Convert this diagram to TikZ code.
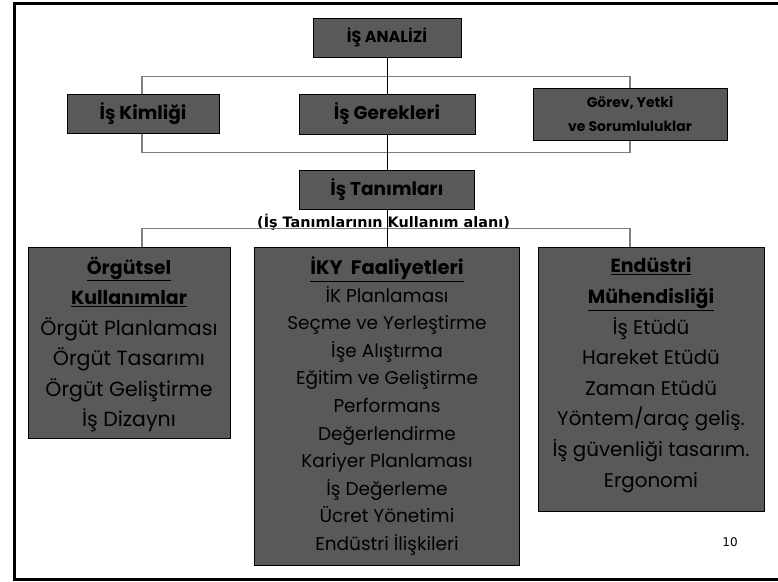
\documentclass[tikz,border=0pt]{standalone}
\usepackage{fontspec}
\setmainfont{Poppins}
\newfontfamily\dejavu{DejaVu Sans}
\definecolor{boxgray}{HTML}{595959}
\definecolor{linegray}{HTML}{7F7F7F}
\begin{document}
\begin{tikzpicture}[x=1pt,y=-1pt,
  box/.style={draw=black, line width=1pt, fill=boxgray, inner sep=0pt, text=black, align=center},
  headfont/.style={font=\fontsize{16}{20}\selectfont\bfseries},
  midfont/.style={font=\fontsize{18.5}{22}\selectfont\bfseries},
  smallhead/.style={font=\fontsize{14}{24}\selectfont\bfseries},
  bigitems/.style={inner sep=0pt, align=center, anchor=north, text=black, font=\fontsize{20.5}{30.5}\selectfont},
  enditems/.style={inner sep=0pt, align=center, anchor=north, text=black, font=\fontsize{19.8}{30.6}\selectfont},
  smallitems/.style={inner sep=0pt, align=center, anchor=north, text=black, font=\fontsize{18.5}{27.6}\selectfont},
  grayline/.style={draw=linegray, line width=1.5pt},
  blackline/.style={draw=black, line width=1pt},
  frameline/.style={draw=black, line width=3pt}
]
\useasboundingbox (0,0) rectangle (778,581);
% frame
\draw[frameline] (778,3.5) -- (14,3.5) -- (14,579) -- (778,579);

\coordinate (brL) at (142,0);
\coordinate (brR) at (630,0);

% top boxes
\node[box, headfont, minimum width=148pt, minimum height=39pt] (analiz) at (387,37.5) {İŞ ANALİZİ};
\node[box, midfont, minimum width=152pt, minimum height=39pt] (kimlik) at (143,113.5) {İş Kimliği};
\node[box, midfont, minimum width=176pt, minimum height=40pt] (gerek) at (387,114) {İş Gerekleri};
\node[box, smallhead, minimum width=194pt, minimum height=52pt] (gorev) at (630,114) {Görev, Yetki\\ve Sorumluluklar};
\node[box, midfont, minimum width=175pt, minimum height=39pt] (tanim) at (387,189.5) {İş Tanımları};

% bracket lines
\draw[grayline] (kimlik.north -| brL) -- ++(0,-17) -| (gorev.north -| brR);
\draw[grayline] (kimlik.south -| brL) -- ++(0,19) -| (gorev.south -| brR);

% redraw boxes over lines
\node[box, midfont, minimum width=152pt, minimum height=39pt] (kimlikb) at (kimlik) {İş Kimliği};
\node[box, smallhead, minimum width=194pt, minimum height=52pt] (gorevb) at (gorev) {Görev, Yetki\\ve Sorumluluklar};

% label
\node[inner sep=0pt, font=\dejavu\fontsize{14.4}{16}\selectfont\bfseries] (alan) at (383.5,222) {(İş Tanımlarının Kullanım alanı)};

% bottom boxes
\node[box, minimum width=202pt, minimum height=191pt] (orgut) at (129,342.5) {};
\node[box, minimum width=265pt, minimum height=318pt] (iky) at (387,406) {};
\node[box, minimum width=226pt, minimum height=264pt] (endus) at (651,379) {};

\draw[grayline] (orgut.north -| brL) -- ++(0,-18) -| (endus.north -| brR);

% black spine
\draw[blackline] (analiz.south) -- (gerek.north);
\draw[blackline] (gerek.south) -- (tanim.north);
\draw[blackline] (tanim.south) -- (iky.north);

% box texts
\node[bigitems] (orguttxt) at ([yshift=-10]orgut.north) {\textbf{\fontsize{19}{30.5}\selectfont\underline{Örgütsel}}\\\textbf{\fontsize{19}{30.5}\selectfont\underline{Kullanımlar}}\\Örgüt Planlaması\\Örgüt Tasarımı\\Örgüt Geliştirme\\İş Dizaynı};
\node[smallitems] (ikytxt) at ([yshift=-10]iky.north) {\textbf{\fontsize{19.5}{27.6}\selectfont\underline{İKY\ \ Faaliyetleri}}\\İK Planlaması\\Seçme ve Yerleştirme\\İşe Alıştırma\\Eğitim ve Geliştirme\\Performans\\Değerlendirme\\Kariyer Planlaması\\İş Değerleme\\Ücret Yönetimi\\Endüstri İlişkileri};
\node[enditems] (endustxt) at ([yshift=-11]endus.north) {\textbf{\fontsize{19}{30.6}\selectfont\underline{Endüstri}}\\\textbf{\fontsize{19}{30.6}\selectfont\underline{Mühendisliği}}\\İş Etüdü\\Hareket Etüdü\\Zaman Etüdü\\Yöntem/araç geliş.\\İş güvenliği tasarım.\\Ergonomi};

% page number
\node[inner sep=0pt, font=\dejavu\fontsize{12}{14}\selectfont] (pnum) at (730,542) {10};
\end{tikzpicture}
\end{document}
